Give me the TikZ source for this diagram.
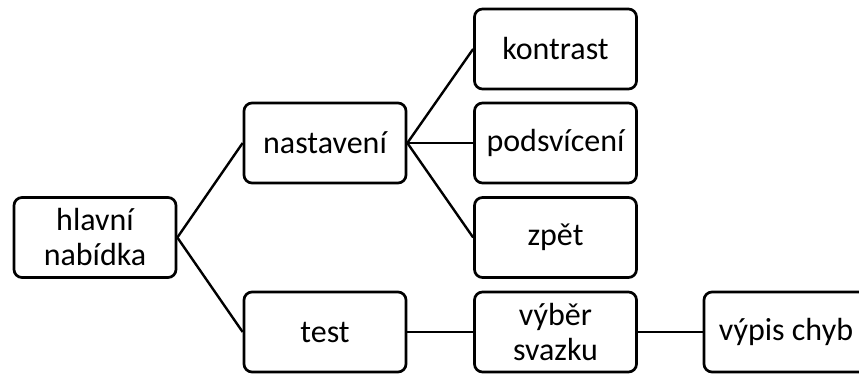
\documentclass[tikz,border=0pt]{standalone}
\usepackage{fontspec}
\setmainfont{Carlito}
\begin{document}
\begin{tikzpicture}[x=1pt,y=-1pt,
  box/.style={draw=black, line width=2.7pt, rounded corners=8pt, minimum width=162pt, minimum height=80pt, align=center, inner sep=0pt, font=\fontsize{32}{35}\selectfont},
  link/.style={draw=black, line width=2.4pt}]
\useasboundingbox (0,0) rectangle (859,374);
\clip (0,0) rectangle (859,374);
\node[box] (hl) at (95,237.5) {hlavní\\nabídka};
\node[box] (nast) at (325,143) {nastavení};
\node[box] (test) at (325,332) {test};
\node[box] (kon) at (555.5,49) {kontrast};
\node[box] (pod) at (555.5,143) {podsvícení};
\node[box] (zpet) at (555.5,237.5) {zpět};
\node[box] (vyb) at (555.5,332) {výběr\\svazku};
\node[box, minimum width=164pt] (vyp) at (786,332) {výpis chyb};
\draw[link] (hl.east) -- (nast.west);
\draw[link] (hl.east) -- (test.west);
\draw[link] (nast.east) -- (kon.west);
\draw[link] (nast.east) -- (pod.west);
\draw[link] (nast.east) -- (zpet.west);
\draw[link] (test.east) -- (vyb.west);
\draw[link] (vyb.east) -- (vyp.west);
\end{tikzpicture}
\end{document}
